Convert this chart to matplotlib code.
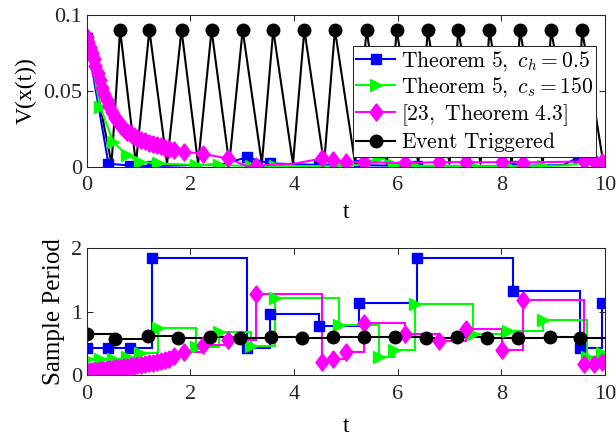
import matplotlib
matplotlib.use("Agg")
import matplotlib.pyplot as plt
import numpy as np

# ------------------------------------------------------------
# Data
# ------------------------------------------------------------

T_END = 10.0

# Theorem 5, c_h = 0.5 (blue)
blue_t = [0, 0.42, 0.84, 1.27, 3.09, 3.53, 4.49, 5.26, 6.38, 8.22, 9.52, 9.95]
blue_h = [0.43, 0.43, 0.43, 1.85, 0.42, 0.96, 0.78, 1.13, 1.85, 1.32, 0.43, 1.14]
blue_vt = [0, 0.42, 0.84, 1.27, 2.60, 3.09, 3.53, 4.49, 5.26, 6.38, 8.22, 9.20,
           9.52, 9.95, 10.0]
blue_v = [0.085, 0.002, 0.0008, 0.0005, 0.0015, 0.0062, 0.0022, 0.0012, 0.0010,
          0.0006, 0.0005, 0.0012, 0.0066, 0.0006, 0.0005]

# Theorem 5, c_s = 150 (green)
green_t = [0, 0.26, 0.51, 0.77, 1.03, 1.38, 2.10, 2.55, 3.17, 3.64, 4.86, 5.64,
           5.93, 6.33, 7.46, 8.12, 8.80, 9.66, 9.94]
green_h = [0.26, 0.26, 0.26, 0.28, 0.35, 0.74, 0.45, 0.68, 0.46, 1.21, 0.79,
           0.29, 0.40, 1.12, 0.64, 0.70, 0.87, 0.28, 0.34]
green_vt = [0, 0.26, 0.51, 0.77, 1.03, 1.38, 2.10, 2.55, 3.17, 3.64, 4.86, 5.35,
            5.64, 5.93, 6.33, 7.46, 8.12, 8.80, 9.30, 9.66, 9.94, 10.0]
green_v = [0.0855, 0.0395, 0.0165, 0.0077, 0.0033, 0.0022, 0.0012, 0.0010,
           0.0006, 0.0005, 0.0004, 0.0015, 0.0066, 0.0012, 0.0006, 0.0004,
           0.0004, 0.0005, 0.0010, 0.0030, 0.0020, 0.0018]

# [23, Theorem 4.3] (magenta)
mag_t = [0, 0.03, 0.062, 0.096, 0.132, 0.17, 0.21, 0.252, 0.296, 0.342, 0.39,
         0.44, 0.492, 0.546, 0.602, 0.66, 0.72, 0.782, 0.846, 0.912, 0.98, 1.05,
         1.122, 1.196, 1.272, 1.35, 1.43, 1.512, 1.596, 1.682, 1.88, 2.24, 2.72,
         3.27, 4.55, 4.75, 5.0, 5.35, 6.15, 6.79, 7.31, 8.02, 8.42, 9.60, 9.78,
         9.94]
mag_h = [0.05, 0.053, 0.056, 0.06, 0.063, 0.067, 0.071, 0.076, 0.08, 0.085, 0.09,
         0.095, 0.10, 0.106, 0.112, 0.118, 0.125, 0.132, 0.14, 0.148, 0.156,
         0.165, 0.174, 0.184, 0.195, 0.207, 0.22, 0.24, 0.26, 0.30, 0.37, 0.48,
         0.55, 1.28, 0.20, 0.25, 0.37, 0.82, 0.64, 0.53, 0.72, 0.40, 1.18, 0.18,
         0.17, 0.20]
mag_vt = [0, 0.03, 0.062, 0.096, 0.132, 0.17, 0.21, 0.252, 0.296, 0.342, 0.39,
          0.44, 0.492, 0.546, 0.602, 0.66, 0.72, 0.782, 0.846, 0.912, 0.98, 1.05,
          1.122, 1.196, 1.272, 1.35, 1.43, 1.512, 1.596, 1.682, 1.88, 2.24, 2.72,
          3.10, 3.27, 4.00, 4.55, 4.75, 5.0, 5.35, 6.15, 6.79, 7.31, 8.02, 8.42,
          9.60, 9.78, 9.94, 10.0]
mag_v = [0.0855, 0.082, 0.079, 0.075, 0.071, 0.066, 0.062, 0.057, 0.052, 0.048,
         0.044, 0.040, 0.036, 0.032, 0.030, 0.027, 0.025, 0.023, 0.0215, 0.020,
         0.0187, 0.0178, 0.0168, 0.0158, 0.015, 0.0142, 0.0134, 0.0125, 0.0117,
         0.011, 0.0099, 0.0085, 0.0055, 0.0003, 0.0008, 0.0020, 0.0055, 0.0045,
         0.0032, 0.0030, 0.0025, 0.0030, 0.0030, 0.0030, 0.0028, 0.0035, 0.0035,
         0.0030, 0.0020]

# Event triggered (black)
et_t = [0, 0.55, 1.19, 1.77, 2.37, 2.96, 3.55, 4.16, 4.76, 5.35, 5.95, 6.55,
        7.14, 7.73, 8.33, 8.93, 9.52]
et_h = [0.65, 0.57, 0.62, 0.58, 0.60, 0.58, 0.60, 0.59, 0.60, 0.60, 0.60, 0.59,
        0.60, 0.59, 0.59, 0.60, 0.59]
et_start = (0.0, 0.085)
et_end = (9.97, 0.002)
et_peak_t = [0.645, 1.21, 1.83, 2.41, 3.01, 3.60, 4.20, 4.79, 5.40, 5.98, 6.58,
             7.17, 7.77, 8.36, 8.96, 9.56]
et_trough_t = [0.48, 0.95, 1.55, 2.15, 2.75, 3.38, 3.98, 4.58, 5.18, 5.79, 6.40,
               7.00, 7.60, 8.20, 8.80, 9.42]
et_peak_v = 0.09
et_trough_v = 0.002

LABELS = [
    r"$\mathrm{Theorem\ 5,}\ c_h = 0.5$",
    r"$\mathrm{Theorem\ 5,}\ c_s = 150$",
    r"$\mathrm{[23,\ Theorem\ 4.3]}$",
    r"$\mathrm{Event\ Triggered}$",
]

# ------------------------------------------------------------
# Style
# ------------------------------------------------------------

plt.rcParams["font.family"] = ["Liberation Serif", "DejaVu Serif"]
plt.rcParams["mathtext.fontset"] = "cm"
plt.rcParams["axes.edgecolor"] = "#262626"
plt.rcParams["xtick.color"] = "#262626"
plt.rcParams["ytick.color"] = "#262626"

LW = 1.5
DIAMOND = [(0, 1), (0.75, 0), (0, -1), (-0.75, 0), (0, 1)]

styles = [
    dict(color="#0000ff", marker="s", ms=7.5),
    dict(color="#00ff00", marker=">", ms=9),
    dict(color="#ff00ff", marker=DIAMOND, ms=12.5),
    dict(color="black", marker="o", ms=9),
]

fig = plt.figure(figsize=(6.16, 4.4), dpi=100)
ax1 = fig.add_axes([0.1407, 0.621, 0.8414, 0.3455])
ax2 = fig.add_axes([0.1407, 0.1477, 0.8414, 0.288])

# ---- top: Lyapunov function ----
et_vt = [et_start[0]]
et_v = [et_start[1]]
for tr, pk in zip(et_trough_t, et_peak_t):
    et_vt += [tr, pk]
    et_v += [et_trough_v, et_peak_v]
et_vt.append(et_end[0])
et_v.append(et_end[1])

curves = [
    (blue_vt, blue_v, np.isin(blue_vt, blue_t)),
    (green_vt, green_v, np.isin(green_vt, green_t)),
    (mag_vt, mag_v, np.isin(mag_vt, mag_t)),
    (et_vt, et_v, np.isin(et_vt, et_peak_t)),
]
handles = []
for (tt, vv, mk), st, lab in zip(curves, styles, LABELS):
    z = 1.8 if st["color"] == "black" else 2
    (ln,) = ax1.plot(tt, vv, lw=LW, markevery=list(mk), label=lab, zorder=z,
                     color=st["color"], marker=st["marker"], ms=st["ms"],
                     mec=st["color"], mfc=st["color"])
    handles.append(ln)

ax1.set_xlim(0, 10)
ax1.set_ylim(0, 0.1)
ax1.set_yticks([0, 0.05, 0.1], labels=["0", "0.05", "0.1"])
ax1.set_xticks([0, 2, 4, 6, 8, 10])
ax1.set_xlabel("t", fontsize=17, labelpad=5)
ax1.set_ylabel("V(x(t))", fontsize=17)

leg = ax1.legend(handles=handles, loc="upper right",
                 bbox_to_anchor=(0.983, 0.795), borderaxespad=0,
                 fontsize=15.5, handlelength=1.8, handletextpad=0.25,
                 labelspacing=0.12, borderpad=0.15, fancybox=False,
                 framealpha=1, edgecolor="#262626")
leg.get_frame().set_linewidth(0.75)

# ---- bottom: sample periods ----
periods = [(blue_t, blue_h), (green_t, green_h), (mag_t, mag_h), (et_t, et_h)]
for (tt, hh), st in zip(periods, styles):
    ax2.stairs(hh, list(tt) + [T_END], baseline=None, fill=False,
               color=st["color"], lw=LW)
    ax2.plot(tt, hh, ls="none", marker=st["marker"], ms=st["ms"],
             color=st["color"], mec=st["color"])

ax2.set_xlim(0, 10)
ax2.set_ylim(0, 2)
ax2.set_yticks([0, 1, 2])
ax2.set_xticks([0, 2, 4, 6, 8, 10])
ax2.set_xlabel("t", fontsize=17, labelpad=9)
ax2.set_ylabel("Sample Period", fontsize=18)

for ax in (ax1, ax2):
    ax.tick_params(direction="in", top=True, right=True, length=4,
                   width=0.75, labelsize=16)
    ax.tick_params(axis="x", pad=7)
    for sp in ax.spines.values():
        sp.set_linewidth(0.75)

fig.savefig("out.png", dpi=100)
